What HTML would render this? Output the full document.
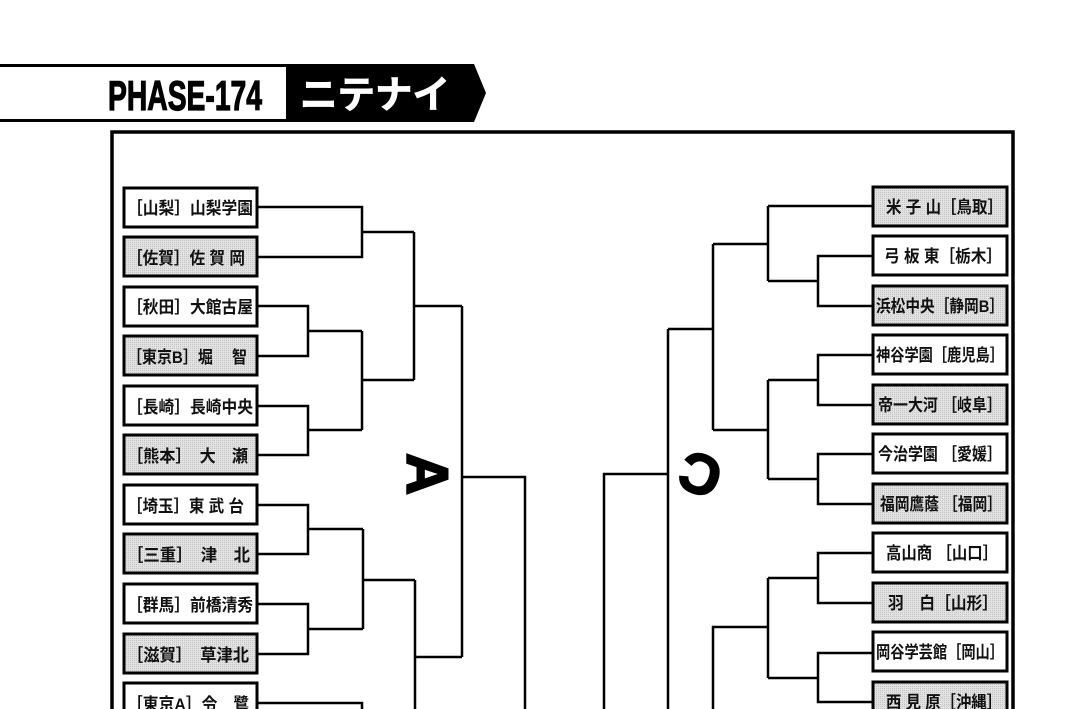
<!DOCTYPE html>
<html><head><meta charset="utf-8"><style>
html,body{margin:0;padding:0;background:#fff;width:1070px;height:709px;overflow:hidden}
svg{display:block}
text{font-family:"Liberation Sans","Noto Sans CJK JP",sans-serif;font-weight:bold}
</style></head><body>
<svg width="1070" height="709" viewBox="0 0 1070 709" xmlns="http://www.w3.org/2000/svg">
<defs>
<pattern id="dot" width="2" height="2" patternUnits="userSpaceOnUse">
<rect width="2" height="2" fill="#e2e2e2"/><rect width="1" height="1" fill="#c4c4c4"/>
</pattern>
</defs>
<polygon points="0,64 474,64 486,93 474,122 0,122" fill="#000"/>
<rect x="0" y="67" width="286" height="52" fill="#fff"/>
<text x="108" y="110" font-size="42" textLength="154" lengthAdjust="spacingAndGlyphs" fill="#000" stroke="#000" stroke-width="1.2" style="font-family:'Liberation Sans Narrow','Liberation Sans',sans-serif">PHASE-174</text>
<text x="300" y="108" font-size="38" textLength="150" lengthAdjust="spacingAndGlyphs" fill="#fff" stroke="#fff" stroke-width="0.8">ニテナイ</text>
<path d="M112,712 L112,132 L1013,132 L1013,712" fill="none" stroke="#000" stroke-width="3.5"/>
<g fill="none" stroke="#000" stroke-width="2.5">
<path d="M257,207 H362 V257 H257"/>
<path d="M362,232 H414"/>
<path d="M257,306 H308 V356 H257"/>
<path d="M308,331 H362"/>
<path d="M257,406 H308 V455 H257"/>
<path d="M308,430 H362"/>
<path d="M362,331 V430 M362,380 H414"/>
<path d="M414,232 V380 M414,306 H462"/>
<path d="M257,505 H308 V554 H257"/>
<path d="M308,529 H363"/>
<path d="M257,604 H308 V654 H257"/>
<path d="M308,629 H363"/>
<path d="M363,529 V629 M363,580 H415"/>
<path d="M415,580 V720 M415,657 H462"/>
<path d="M257,703 H362 V720"/>
<path d="M462,306 V657 M462,477 H525 V720"/>
<path d="M873,206 H768"/>
<path d="M873,256 H818 V306 H873"/>
<path d="M818,281 H768"/>
<path d="M768,206 V281 M768,244 H713"/>
<path d="M873,355 H818 V405 H873"/>
<path d="M818,380 H768"/>
<path d="M873,454 H818 V504 H873"/>
<path d="M818,479 H768"/>
<path d="M768,380 V479 M768,430 H713"/>
<path d="M713,244 V430 M713,329 H668"/>
<path d="M873,553 H818 V603 H873"/>
<path d="M818,578 H768"/>
<path d="M873,653 H818 V702 H873"/>
<path d="M818,678 H768"/>
<path d="M768,578 V678 M768,627 H713 V720"/>
<path d="M668,329 V720 M668,474 H604 V720"/>
</g>
<text x="0" y="0" font-size="58" text-anchor="middle" stroke="#000" stroke-width="2" transform="translate(428,474) rotate(90) translate(0,21)">A</text>
<text x="0" y="0" font-size="56" text-anchor="middle" stroke="#000" stroke-width="2" transform="translate(700,475) rotate(200) translate(0,20)">C</text>
<g stroke="#000" stroke-width="3">
<rect x="124" y="188" width="133" height="39" fill="#fff"/>
<rect x="124" y="237" width="133" height="39" fill="url(#dot)"/>
<rect x="124" y="287" width="133" height="39" fill="#fff"/>
<rect x="124" y="336" width="133" height="39" fill="url(#dot)"/>
<rect x="124" y="386" width="133" height="39" fill="#fff"/>
<rect x="124" y="435" width="133" height="39" fill="url(#dot)"/>
<rect x="124" y="485" width="133" height="39" fill="#fff"/>
<rect x="124" y="534" width="133" height="39" fill="url(#dot)"/>
<rect x="124" y="584" width="133" height="39" fill="#fff"/>
<rect x="124" y="634" width="133" height="39" fill="url(#dot)"/>
<rect x="124" y="683" width="133" height="39" fill="#fff"/>
</g>
<g font-size="17" fill="#111">
<text x="127" y="214" textLength="126" lengthAdjust="spacingAndGlyphs">［山梨］山梨学園</text>
<text x="127" y="264" textLength="118" lengthAdjust="spacingAndGlyphs">［佐賀］佐 賀 岡</text>
<text x="127" y="313" textLength="126" lengthAdjust="spacingAndGlyphs">［秋田］大館古屋</text>
<text x="127" y="363" textLength="120" lengthAdjust="spacingAndGlyphs">［東京B］堀　 智</text>
<text x="127" y="413" textLength="126" lengthAdjust="spacingAndGlyphs">［長崎］長崎中央</text>
<text x="127" y="462" textLength="121" lengthAdjust="spacingAndGlyphs">［熊本］　大　瀬</text>
<text x="127" y="512" textLength="117" lengthAdjust="spacingAndGlyphs">［埼玉］東 武 台</text>
<text x="127" y="561" textLength="123" lengthAdjust="spacingAndGlyphs">［三重］　津　北</text>
<text x="127" y="611" textLength="126" lengthAdjust="spacingAndGlyphs">［群馬］前橋清秀</text>
<text x="127" y="661" textLength="122" lengthAdjust="spacingAndGlyphs">［滋賀］　草津北</text>
<text x="127" y="710" textLength="122" lengthAdjust="spacingAndGlyphs">［東京A］令　鷺</text>
</g>
<g stroke="#000" stroke-width="3">
<rect x="873" y="187" width="134" height="39" fill="url(#dot)"/>
<rect x="873" y="236" width="134" height="39" fill="#fff"/>
<rect x="873" y="286" width="134" height="39" fill="url(#dot)"/>
<rect x="873" y="335" width="134" height="39" fill="#fff"/>
<rect x="873" y="385" width="134" height="39" fill="url(#dot)"/>
<rect x="873" y="434" width="134" height="39" fill="#fff"/>
<rect x="873" y="484" width="134" height="39" fill="url(#dot)"/>
<rect x="873" y="533" width="134" height="39" fill="#fff"/>
<rect x="873" y="583" width="134" height="39" fill="url(#dot)"/>
<rect x="873" y="632" width="134" height="39" fill="#fff"/>
<rect x="873" y="682" width="134" height="39" fill="url(#dot)"/>
</g>
<g font-size="17" fill="#111">
<text x="886" y="213" textLength="117" lengthAdjust="spacingAndGlyphs">米 子 山［鳥取］</text>
<text x="884" y="262" textLength="118" lengthAdjust="spacingAndGlyphs">弓 板 東［栃木］</text>
<text x="876" y="312" textLength="128" lengthAdjust="spacingAndGlyphs">浜松中央［静岡B］</text>
<text x="876" y="361" textLength="128" lengthAdjust="spacingAndGlyphs">神谷学園［鹿児島］</text>
<text x="878" y="411" textLength="124" lengthAdjust="spacingAndGlyphs">帝一大河 ［岐阜］</text>
<text x="878" y="460" textLength="124" lengthAdjust="spacingAndGlyphs">今治学園 ［愛媛］</text>
<text x="880" y="510" textLength="122" lengthAdjust="spacingAndGlyphs">福岡鷹蔭 ［福岡］</text>
<text x="886" y="559" textLength="112" lengthAdjust="spacingAndGlyphs">高山商 ［山口］</text>
<text x="888" y="609" textLength="110" lengthAdjust="spacingAndGlyphs">羽　白［山形］</text>
<text x="876" y="658" textLength="128" lengthAdjust="spacingAndGlyphs">岡谷学芸館［岡山］</text>
<text x="886" y="708" textLength="116" lengthAdjust="spacingAndGlyphs">西 見 原［沖縄］</text>
</g>
</svg>
</body></html>
